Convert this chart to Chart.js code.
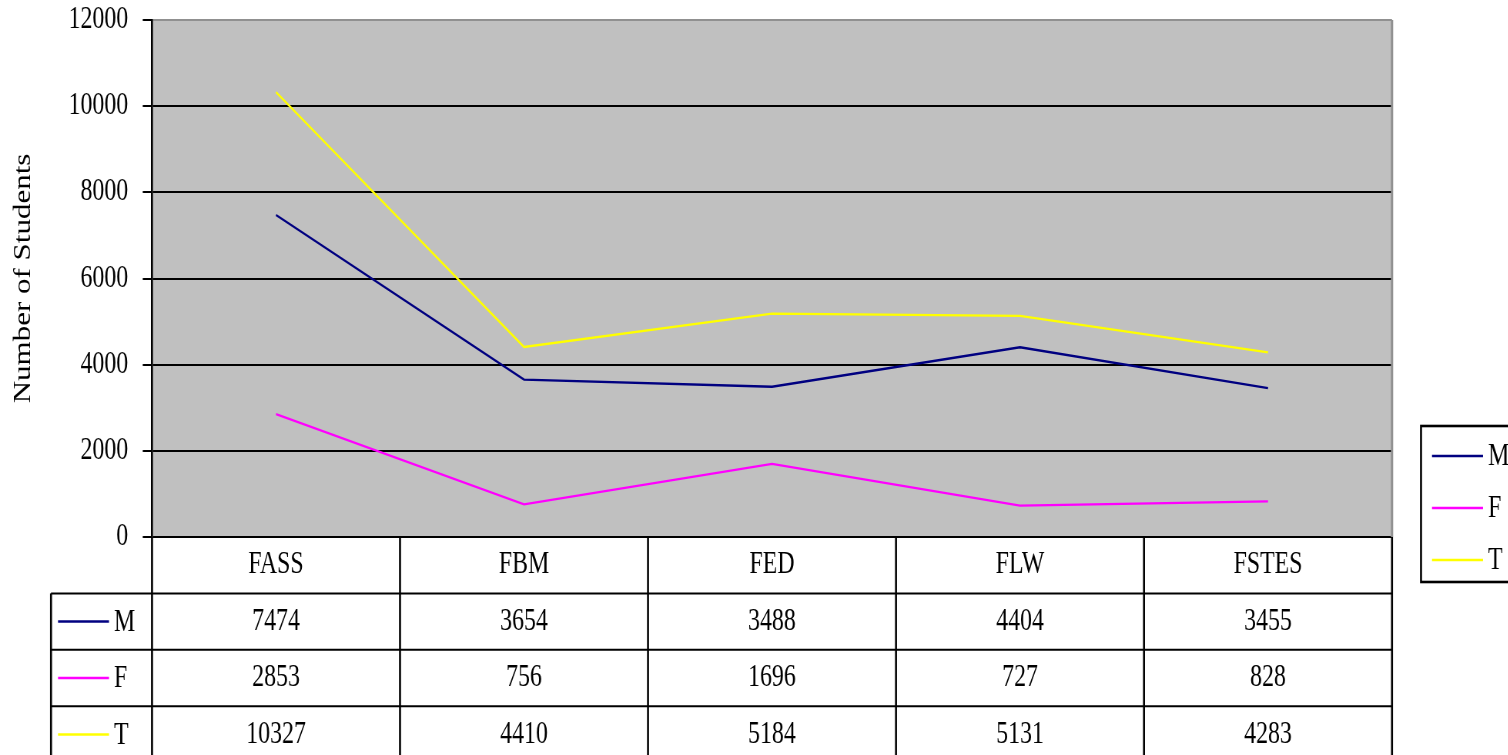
<!DOCTYPE html>
<html>
<head>
<meta charset="utf-8">
<script src="https://cdn.jsdelivr.net/npm/chart.js@4/dist/chart.umd.min.js"></script>
<style>
  html, body { margin: 0; padding: 0; overflow: hidden; background: #fff; width: 1508px; height: 755px; }
  #wrap { position: absolute; left: 0; top: 0; transform-origin: 0 0; }
</style>
</head>
<body>
<div id="wrap"><canvas id="c"></canvas></div>
<script>
// ---- data ----
const categories = ['FASS', 'FBM', 'FED', 'FLW', 'FSTES'];
const maleValues = [7474, 3654, 3488, 4404, 3455];
const femaleValues = [2853, 756, 1696, 727, 828];
const totalValues = [10327, 4410, 5184, 5131, 4283];
const seriesLabels = ['M', 'F', 'T'];
const yAxisTitle = 'Number of Students';
const yMin = 0, yMax = 12000, yStep = 2000;

// ---- layout (reference text is horizontally compressed; emulate with scaleX) ----
const S = 0.77;
const W = Math.round(1508 / S);
const H = 755;
const ux = px => px / S;
const FONT = '"Liberation Serif", "Times New Roman", serif';
const FS = 31;

const wrap = document.getElementById('wrap');
wrap.style.width = W + 'px';
wrap.style.height = H + 'px';
wrap.style.transform = 'scaleX(' + S + ')';
const canvas = document.getElementById('c');
canvas.width = W; canvas.height = H;
canvas.style.width = W + 'px'; canvas.style.height = H + 'px';

const colors = ['#000080', '#FF00FF', '#FFFF00'];
const seriesValues = [maleValues, femaleValues, totalValues];

const plotBg = {
  id: 'plotBg',
  beforeDraw(chart) {
    const { ctx, chartArea: a } = chart;
    ctx.save();
    ctx.fillStyle = '#C0C0C0';
    ctx.fillRect(a.left, a.top, a.right - a.left, a.bottom - a.top);
    ctx.restore();
  },
  afterDatasetsDraw(chart) {
    const { ctx, chartArea: a } = chart;
    ctx.save();
    ctx.strokeStyle = '#909090';
    ctx.lineWidth = 3;
    ctx.beginPath();
    ctx.moveTo(a.right, a.top);
    ctx.lineTo(a.right, a.bottom);
    ctx.stroke();
    ctx.restore();
  }
};

const dataTable = {
  id: 'dataTable',
  afterDraw(chart) {
    const { ctx, chartArea: a } = chart;
    const xs = chart.scales.x;
    const n = categories.length;
    const colW = (a.right - a.left) / n;
    const rowH = 56.4;
    const top = a.bottom;
    const legLeft = ux(51);
    ctx.save();
    ctx.strokeStyle = '#000';
    ctx.lineWidth = 2;
    for (let r = 1; r <= 4; r++) {
      const y = top + r * rowH;
      ctx.beginPath(); ctx.moveTo(legLeft, y); ctx.lineTo(a.right, y); ctx.stroke();
    }
    ctx.lineWidth = 2.6;
    for (let i = 0; i <= n; i++) {
      const x = a.left + i * colW;
      ctx.beginPath(); ctx.moveTo(x, top); ctx.lineTo(x, H + 10); ctx.stroke();
    }
    ctx.beginPath(); ctx.moveTo(legLeft, top + rowH); ctx.lineTo(legLeft, H + 10); ctx.stroke();
    ctx.fillStyle = '#000';
    ctx.font = FS + 'px ' + FONT;
    ctx.textAlign = 'center';
    ctx.textBaseline = 'middle';
    categories.forEach((c, i) => {
      ctx.fillText(c, xs.getPixelForValue(i), top + rowH / 2);
    });
    seriesValues.forEach((vals, r) => {
      const yc = top + (r + 1.5) * rowH;
      vals.forEach((v, i) => ctx.fillText(String(v), xs.getPixelForValue(i), yc));
      ctx.strokeStyle = colors[r];
      ctx.lineWidth = 2.5;
      ctx.beginPath(); ctx.moveTo(ux(58), yc); ctx.lineTo(ux(109), yc); ctx.stroke();
      ctx.textAlign = 'left';
      ctx.fillText(seriesLabels[r], ux(114), yc + 1);
      ctx.textAlign = 'center';
    });
    ctx.restore();
  }
};

const sideLegend = {
  id: 'sideLegend',
  afterDraw(chart) {
    const { ctx } = chart;
    ctx.save();
    ctx.strokeStyle = '#000';
    ctx.lineWidth = 2.6;
    ctx.strokeRect(ux(1421), 426, ux(1520) - ux(1421), 156);
    ctx.font = FS + 'px ' + FONT;
    ctx.textBaseline = 'middle';
    ctx.textAlign = 'left';
    ctx.fillStyle = '#000';
    chart.data.datasets.forEach((ds, i) => {
      const y = 456 + i * 52;
      ctx.strokeStyle = ds.borderColor;
      ctx.lineWidth = 2.5;
      ctx.beginPath(); ctx.moveTo(ux(1432), y); ctx.lineTo(ux(1483), y); ctx.stroke();
      ctx.fillText(ds.label, ux(1488), y + 1);
    });
    ctx.restore();
  }
};

new Chart(canvas, {
  type: 'line',
  data: {
    labels: categories,
    datasets: seriesLabels.map((lab, i) => ({
      label: lab,
      data: seriesValues[i],
      borderColor: colors[i],
      backgroundColor: colors[i],
      borderWidth: 2.3,
      pointRadius: 0,
      tension: 0,
      fill: false
    }))
  },
  options: {
    responsive: false,
    animation: false,
    devicePixelRatio: 1,
    layout: { padding: { top: 20, bottom: H - 537, left: 0, right: W - ux(1392) } },
    plugins: { legend: { display: false }, tooltip: { enabled: false } },
    scales: {
      x: { type: 'category', display: false, offset: true },
      y: {
        min: yMin, max: yMax,
        ticks: { stepSize: yStep, color: '#000', font: { family: FONT, size: FS, lineHeight: 0.05 }, padding: 19,
                 callback: v => String(v) },
        grid: {
          color: c => (c.tick && c.tick.value === yMax) ? '#909090' : '#000',
          lineWidth: 2,
          tickLength: 12,
          tickColor: '#000'
        },
        border: { color: '#000', width: 2.6 },
        title: { display: true, text: yAxisTitle, color: '#000', font: { family: FONT, size: FS }, padding: { top: 12, bottom: 0 } },
        afterFit: s => { s.width = ux(152); }
      }
    }
  },
  plugins: [plotBg, dataTable, sideLegend]
});
</script>
</body>
</html>
